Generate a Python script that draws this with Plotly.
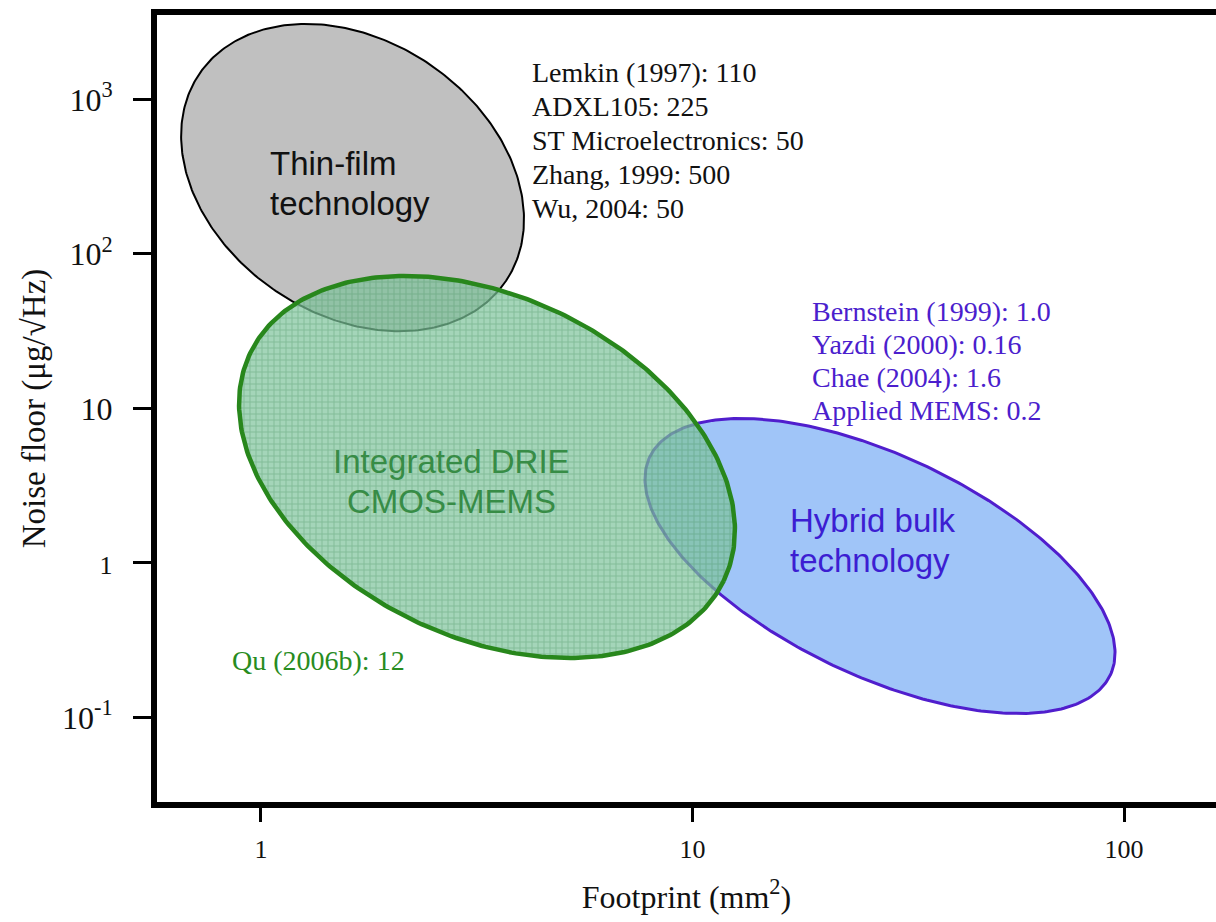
import numpy as np
import plotly.graph_objects as go

# ---- figure data -------------------------------------------------------
thin_film_refs = ["Lemkin (1997): 110", "ADXL105: 225", "ST Microelectronics: 50",
                  "Zhang, 1999: 500", "Wu, 2004: 50"]
hybrid_refs = ["Bernstein (1999): 1.0", "Yazdi (2000): 0.16", "Chae (2004): 1.6",
               "Applied MEMS: 0.2"]
cmos_refs = ["Qu (2006b): 12"]

region_labels = [["Thin-film", "technology"],
                 ["Integrated DRIE", "CMOS-MEMS"],
                 ["Hybrid bulk", "technology"]]
# region centres: footprint (mm^2), noise floor (ug/rtHz)
region_footprint = [1.63, 3.34, 27.2]
region_noise = [312.0, 4.18, 0.955]

x_tickvals = [1, 10, 100]
x_ticktext = ["1", "10", "100"]
y_tickvals = [1000, 100, 10, 1, 0.1]
y_ticktext = ["10<sup>3</sup>", "10<sup>2</sup>", "10",
              "<span style='font-size:26px'>1</span>", "10<sup>-1</sup>"]

# ---- layout geometry ---------------------------------------------------
W, H = 1216, 922
M_L, M_R, M_T, M_B = 157, 0, 15, 120
X_RANGE = [-0.241, 2.2132]      # log10 footprint
Y_RANGE = [-1.5476, 3.5463]     # log10 noise
PX_X = (W - M_L - M_R) / (X_RANGE[1] - X_RANGE[0])   # px per decade
PX_Y = (H - M_T - M_B) / (Y_RANGE[1] - Y_RANGE[0])

SERIF = "Liberation Serif, Times New Roman, serif"
SANS = "Liberation Sans, Arial, sans-serif"


def outline(cx, cy, a, b, tilt):
    """Tilted ellipse (semi-axes a, b in screen px) around a data-space centre."""
    t = np.linspace(0, 2 * np.pi, 361)
    th = np.radians(tilt)
    dx = a * np.cos(th) * np.cos(t) - b * np.sin(th) * np.sin(t)
    dy = a * np.sin(th) * np.cos(t) + b * np.cos(th) * np.sin(t)
    return 10 ** (np.log10(cx) + dx / PX_X), 10 ** (np.log10(cy) - dy / PX_Y)


# semi-axes and tilt of each region outline
shape_a = [185.0, 262.7, 254.8]
shape_b = [137.0, 170.2, 109.9]
shape_tilt = [34.0, 25.7, 25.35]

fig = go.Figure()

# thin-film region (grey)
x, y = outline(region_footprint[0], region_noise[0], shape_a[0], shape_b[0], shape_tilt[0])
fig.add_trace(go.Scatter(x=x, y=y, mode="lines", fill="toself",
                         fillcolor="#c0c0c0", line=dict(color="#000000", width=2),
                         hoverinfo="skip", showlegend=False))

# hybrid bulk region (blue)
x, y = outline(region_footprint[2], region_noise[2], shape_a[2], shape_b[2], shape_tilt[2])
fig.add_trace(go.Scatter(x=x, y=y, mode="lines", fill="toself",
                         fillcolor="rgb(160,197,248)", line=dict(color="rgb(80,30,205)", width=3),
                         hoverinfo="skip", showlegend=False))

# integrated CMOS-MEMS region (green, meshed, translucent)
x, y = outline(region_footprint[1], region_noise[1], shape_a[1], shape_b[1], shape_tilt[1])
fig.add_trace(go.Scatter(x=x, y=y, mode="lines", fill="toself",
                         fillcolor="rgba(120,192,150,0.72)",
                         fillpattern=dict(shape="+", size=6, solidity=0.25,
                                          fgcolor="rgba(55,135,85,0.75)",
                                          bgcolor="rgba(125,196,155,0.70)"),
                         line=dict(color="rgb(40,135,28)", width=4.5),
                         hoverinfo="skip", showlegend=False))

annotations = []


def add_lines(lines, fx, fy, step, size, color, font, xanchor="left"):
    for i, txt in enumerate(lines):
        annotations.append(dict(
            x=np.log10(fx), y=np.log10(fy), xref="x", yref="y",
            text=txt, showarrow=False, xanchor=xanchor, yanchor="middle",
            yshift=-i * step, font=dict(family=font, size=size, color=color)))


# region names
add_lines(region_labels[0], 1.04, 387, 40, 33, "#111111", SANS)
add_lines(region_labels[1], 2.77, 4.53, 40, 33, "rgb(55,140,70)", SANS, xanchor="center")
add_lines(region_labels[2], 16.65, 1.88, 40, 33, "rgb(60,30,210)", SANS)

# reference lists
add_lines(thin_film_refs, 4.2, 1483, 34, 28, "#111111", SERIF)
add_lines(hybrid_refs, 18.73, 42.7, 33.3, 28, "rgb(75,30,205)", SERIF)
add_lines(cmos_refs, 0.848, 0.235, 0, 28, "rgb(40,140,30)", SERIF)

fig.update_layout(
    width=W, height=H,
    margin=dict(l=M_L, r=M_R, t=M_T, b=M_B),
    paper_bgcolor="white", plot_bgcolor="white",
    annotations=annotations,
    showlegend=False,
)

fig.update_xaxes(
    type="log", range=X_RANGE, showgrid=False, zeroline=False,
    showline=True, linecolor="black", linewidth=6, mirror=True,
    ticks="outside", ticklen=14, tickwidth=2.5, tickcolor="black",
    tickvals=x_tickvals, ticktext=x_ticktext, ticklabelstandoff=5,
    tickfont=dict(family=SERIF, size=26, color="#111111"),
    title=dict(text="Footprint (mm<sup>2</sup>)", standoff=24,
               font=dict(family=SERIF, size=32, color="#111111")),
    automargin=False,
)
fig.update_yaxes(
    type="log", range=Y_RANGE, showgrid=False, zeroline=False,
    showline=True, linecolor="black", linewidth=6, mirror=False,
    ticks="outside", ticklen=18, tickwidth=2.5, tickcolor="black",
    tickvals=y_tickvals, ticktext=y_ticktext, ticklabelstandoff=14,
    tickfont=dict(family=SERIF, size=32, color="#111111"),
    title=dict(text="Noise floor (μg/√Hz)", standoff=8,
               font=dict(family=SERIF, size=33, color="#111111")),
    automargin=False,
)

fig.write_html("out.html")
